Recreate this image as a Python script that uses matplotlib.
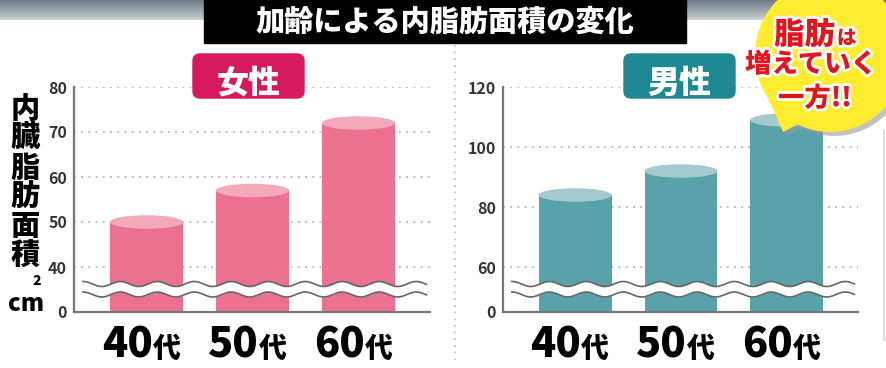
import numpy as np
import matplotlib
matplotlib.use("Agg")
import matplotlib.pyplot as plt
from matplotlib import patches, transforms
import matplotlib.patheffects as pe
from matplotlib.colors import LinearSegmentedColormap

plt.rcParams['font.family'] = ['Noto Sans CJK JP', 'DejaVu Sans']

# ---------------- data ----------------
categories = ["40", "50", "60"]
category_suffix = "代"
female_values = [50, 57, 72]
male_values = [84, 92, 109]
female_ticks = [0, 40, 50, 60, 70, 80]
male_ticks = [0, 60, 80, 100, 120]
title = "加齢による内脂肪面積の変化"
female_label = "女性"
male_label = "男性"
ylabel_chars = ["内", "臓", "脂", "肪", "面", "積"]
bubble_lines = ["脂肪", "は", "増えていく", "一方!!"]

W, H = 887, 368
fig = plt.figure(figsize=(W / 100, H / 100), dpi=100)
fig.patch.set_facecolor("white")


def px_rect(x0, y0, x1, y1):
    return [x0 / W, 1 - y1 / H, (x1 - x0) / W, (y1 - y0) / H]


def make_scale(brk, frac):
    def fwd(v):
        v = np.asarray(v, dtype=float)
        return np.where(v <= brk, v * frac, v - brk + brk * frac)

    def inv(d):
        d = np.asarray(d, dtype=float)
        return np.where(d <= brk * frac, d / frac, d + brk - brk * frac)
    return fwd, inv


def draw_panel(rect, values, ticks, brk, body, cap):
    ax = fig.add_axes(rect)
    ax.patch.set_alpha(0)
    fwd, inv = make_scale(brk, 0.25)
    ax.set_yscale("function", functions=(fwd, inv))
    ymax = ticks[-1]
    ax.set_ylim(0, ymax)
    ax.set_xlim(-0.684, 2.675)
    x = np.arange(len(values))
    ax.bar(x, values, width=0.69, color=body, zorder=2)
    # cylinder caps
    ax_h_px = rect[3] * H
    units_per_px = (fwd(ymax) - fwd(0)) / ax_h_px
    cap_h = 13.5 * units_per_px
    for xi, v in zip(x, values):
        ax.add_patch(patches.Ellipse((xi, v), 0.69, cap_h, facecolor=cap,
                                     edgecolor="none", zorder=3))
    # grid
    for t in ticks[1:]:
        ax.axhline(t, color="#b8b8b8", lw=1.3, ls=(0, (1, 3)), zorder=1)
    ax.set_yticks(ticks)
    ax.set_yticklabels([str(t) for t in ticks], fontsize=11.5, fontweight="bold",
                       color="#333333")
    ax.tick_params(axis="y", length=0, pad=5)
    ax.set_xticks([])
    for s in ["top", "right"]:
        ax.spines[s].set_visible(False)
    for s in ["left", "bottom"]:
        ax.spines[s].set_color("#777777")
        ax.spines[s].set_linewidth(1.6)
    ax.spines["left"].set_zorder(5)
    # break waves
    xs = np.linspace(0.025, 0.99, 400)
    width_px = rect[2] * W
    phase = 2 * np.pi * (xs * width_px) / 37.0
    amp = 2.5 / ax_h_px
    y_top = (312 - 284) / ax_h_px + amp * np.sin(phase)
    y_bot = (312 - 294.5) / ax_h_px + amp * np.sin(phase)
    ax.fill_between(xs, y_bot, y_top, transform=ax.transAxes, color="white",
                    zorder=4, lw=0)
    ax.plot(xs, y_top, transform=ax.transAxes, color="#666666", lw=1.2, zorder=4)
    ax.plot(xs, y_bot, transform=ax.transAxes, color="#666666", lw=1.2, zorder=4)
    # category labels
    tr = transforms.blended_transform_factory(ax.transData, ax.transAxes)
    ybase = (312 - 357) / ax_h_px
    for xi, c in zip(x, categories):
        ax.text(xi + 0.057, ybase, c, transform=tr, ha="right", va="baseline",
                fontsize=30, fontweight="heavy", color="black")
        ax.text(xi + 0.057, ybase, category_suffix, transform=tr, ha="left",
                va="baseline", fontsize=20, fontweight="heavy", color="black")
    return ax


draw_panel(px_rect(74, 87, 430, 312), female_values, female_ticks, 40,
           "#EC7190", "#F4A9BA")
draw_panel(px_rect(503, 87, 858, 312), male_values, male_ticks, 60,
           "#59A2A9", "#A3CACE")

# ---------------- overlay ----------------
ov = fig.add_axes([0, 0, 1, 1], zorder=10)
ov.set_xlim(0, W)
ov.set_ylim(H, 0)
ov.axis("off")
ov.patch.set_alpha(0)

# top gray band
grad = np.linspace(0, 1, 50)[:, None]
cm = LinearSegmentedColormap.from_list("g", ["#6f7c87", "#c9d0d5"])
ov.imshow(grad * np.ones((1, 10)), cmap=cm, extent=(0, W, 20, 0),
          aspect="auto", zorder=0)

# title box
ov.add_patch(patches.Rectangle((204, 0), 482, 43, color="black", zorder=2))
ov.text(445, 22, title, color="white", fontsize=21, fontweight="heavy",
        ha="center", va="center", zorder=3)

# gender labels
for (x0, x1, lab, col) in [(193, 304, female_label, "#D6195B"),
                           (624, 735, male_label, "#1E8893")]:
    ov.add_patch(patches.FancyBboxPatch((x0 + 6, 60), x1 - x0 - 12, 32,
                                        boxstyle="round,pad=6,rounding_size=7",
                                        color=col, zorder=3))
    ov.text((x0 + x1) / 2, 83, lab, color="white", fontsize=23,
            fontweight="heavy", ha="center", va="center", zorder=4)

# separator lines
ov.plot([455, 455], [45, 360], color="#c0c0c0", lw=1.2, ls=(0, (1, 3)), zorder=1)
ov.plot([884, 884], [130, 340], color="#d8d8d8", lw=1.2, zorder=1)

# y label
for i, ch in enumerate(ylabel_chars):
    ov.text(25, 109 + i * 29.4, ch, fontsize=21, fontweight="heavy",
            ha="center", va="center", color="black")
ov.text(26, 311, "cm", fontsize=17, fontweight="heavy", ha="center",
        va="baseline", color="black")
ov.text(37, 285, "2", fontsize=10, fontweight="heavy", ha="center",
        va="baseline", color="black")

# speech bubble
ov.add_patch(patches.Ellipse((834, 59), 150, 154, color="#9a9a9a", alpha=0.6,
                             zorder=5, lw=0))
ov.add_patch(patches.Polygon([(772, 104), (787, 136), (810, 124)],
                             closed=True, color="#9a9a9a", alpha=0.6, zorder=5, lw=0))
ov.add_patch(patches.Ellipse((830, 55), 150, 154, color="#FFEC2E", zorder=6, lw=0))
ov.add_patch(patches.Polygon([(769, 100), (783, 132), (806, 120)],
                             closed=True, color="#FFEC2E", zorder=6, lw=0))
stroke = [pe.withStroke(linewidth=4, foreground="white")]
red = "#E3141C"
ov.text(835, 44, bubble_lines[0], fontsize=22, fontweight="heavy", color=red,
        ha="right", va="baseline", zorder=7, path_effects=stroke)
ov.text(837, 44, bubble_lines[1], fontsize=14, fontweight="heavy", color=red,
        ha="left", va="baseline", zorder=7, path_effects=stroke)
ov.text(811, 64, bubble_lines[2], fontsize=19, fontweight="heavy", color=red,
        ha="center", va="center", zorder=7, path_effects=stroke)
ov.text(815, 98, bubble_lines[3], fontsize=19, fontweight="heavy", color=red,
        ha="center", va="center", zorder=7, path_effects=stroke)

fig.savefig("out.png", dpi=100, facecolor="white")
